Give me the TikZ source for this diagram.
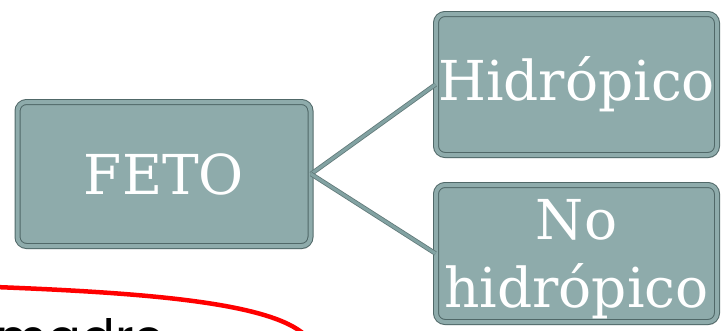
\documentclass[tikz,border=0pt]{standalone}
\usepackage{fontspec}
\setmainfont{DejaVu Serif}
\newfontfamily\madrefont{Poppins}
\usepackage{tikz}
\definecolor{cajagris}{RGB}{142,171,171}
\definecolor{cajaborde}{RGB}{80,104,104}
\definecolor{ramaverde}{RGB}{130,162,162}
\usetikzlibrary{shadows}

\begin{document}
\begin{tikzpicture}[x=1pt, y=-1pt,
		caja/.style={rounded corners=9pt, fill=cajagris, draw=cajaborde, line width=1pt,
			double=cajagris, double distance=4pt, text=white, align=center, inner sep=0pt,
			drop shadow={opacity=0.3, shadow xshift=1.5pt, shadow yshift=-3pt}},
		rama/.style={draw=ramaverde!75!black, line width=0.8pt, double=ramaverde, double distance=3pt},
		font=\fontsize{55}{68}\selectfont]
		%Bildbereich
		\useasboundingbox (0,0) rectangle (721,330);
		\clip (0,0) rectangle (721,330);
		% Kaesten
		\node[caja, minimum width=293pt, minimum height=144pt] (feto) at (164,174) {FETO};
		\node[caja, minimum width=281pt, minimum height=141pt] (hidro) at (576.5,84.5) {Hidrópico};
		\node[caja, minimum width=281pt, minimum height=137pt, text depth=0pt] (nohidro) at (576.5,253.5) {No\\hidrópico};
		% Verbindungen
		\draw[rama] (feto.east) -- (hidro.west);
		\draw[rama] (feto.east) -- (nohidro.west);
		% madre (abgeschnitten)
		\node[anchor=base west, inner sep=0pt, font=\madrefont\fontsize{50}{60}\selectfont] (madre) at (-4,355) {madre};
		\draw[red, line width=4.5pt] (-5,287) .. controls (150,293) and (270,303) .. (305,335);
	\end{tikzpicture}
\end{document}
